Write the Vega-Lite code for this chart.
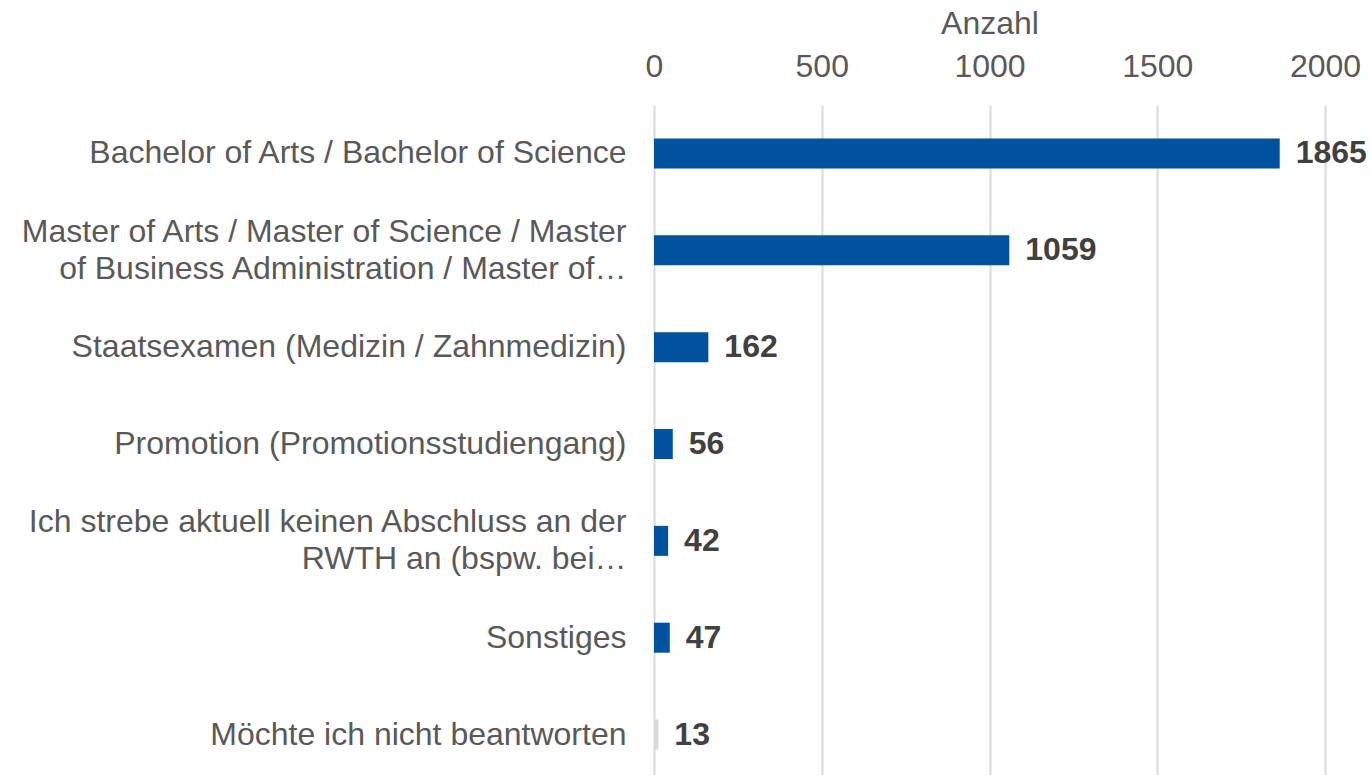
{
  "$schema": "https://vega.github.io/schema/vega-lite/v6.json",
  "width": 671,
  "height": 672,
  "autosize": {"type": "none"},
  "padding": {"left": 654, "top": 103, "right": 46, "bottom": 0},
  "background": "white",
  "config": {
    "font": "Liberation Sans",
    "view": {"stroke": null}
  },
  "data": {
    "values": [
      {"category": "Bachelor of Arts / Bachelor of Science", "count": 1865},
      {"category": "Master of Arts / Master of Science / Master of Business Administration / Master of…", "count": 1059},
      {"category": "Staatsexamen (Medizin / Zahnmedizin)", "count": 162},
      {"category": "Promotion (Promotionsstudiengang)", "count": 56},
      {"category": "Ich strebe aktuell keinen Abschluss an der RWTH an (bspw. bei…", "count": 42},
      {"category": "Sonstiges", "count": 47},
      {"category": "Möchte ich nicht beantworten", "count": 13}
    ]
  },
  "encoding": {
    "y": {
      "field": "category",
      "type": "nominal",
      "sort": null,
      "scale": {"range": [2, 680], "paddingInner": 0, "paddingOuter": 0},
      "axis": {
        "title": null,
        "domain": false,
        "ticks": false,
        "labelPadding": 28,
        "labelFontSize": 32,
        "labelColor": "#595959",
        "labelLimit": 700,
        "labelLineHeight": 37,
        "labelOffset": {"condition": {"test": "datum.value == 'Master of Arts / Master of Science / Master of Business Administration / Master of…' || datum.value == 'Ich strebe aktuell keinen Abschluss an der RWTH an (bspw. bei…'", "value": -18.5}, "value": 0},
        "labelExpr": "datum.value == 'Master of Arts / Master of Science / Master of Business Administration / Master of…' ? ['Master of Arts / Master of Science / Master', 'of Business Administration / Master of…'] : datum.value == 'Ich strebe aktuell keinen Abschluss an der RWTH an (bspw. bei…' ? ['Ich strebe aktuell keinen Abschluss an der', 'RWTH an (bspw. bei…'] : datum.value"
      }
    },
    "x": {
      "field": "count",
      "type": "quantitative",
      "scale": {"domain": [0, 2000], "nice": false},
      "axis": {
        "orient": "top",
        "title": "Anzahl",
        "titleFontSize": 32,
        "titleFontWeight": "normal",
        "titleColor": "#595959",
        "titlePadding": 10,
        "values": [0, 500, 1000, 1500, 2000],
        "format": "d",
        "labelFlush": false,
        "domain": false,
        "ticks": false,
        "labelPadding": 20,
        "labelFontSize": 32,
        "labelColor": "#595959",
        "grid": true,
        "gridColor": "#D9D9D9",
        "gridWidth": 2
      }
    }
  },
  "layer": [
    {
      "mark": {"type": "bar", "size": 30},
      "encoding": {
        "color": {
          "condition": {"test": "datum.category == 'Möchte ich nicht beantworten'", "value": "#D9D9D9"},
          "value": "#00529F"
        }
      }
    },
    {
      "mark": {"type": "text", "align": "left", "baseline": "middle", "dx": 16, "fontSize": 32, "fontWeight": "bold", "color": "#404040"},
      "encoding": {
        "text": {"field": "count", "type": "quantitative"}
      }
    }
  ]
}
